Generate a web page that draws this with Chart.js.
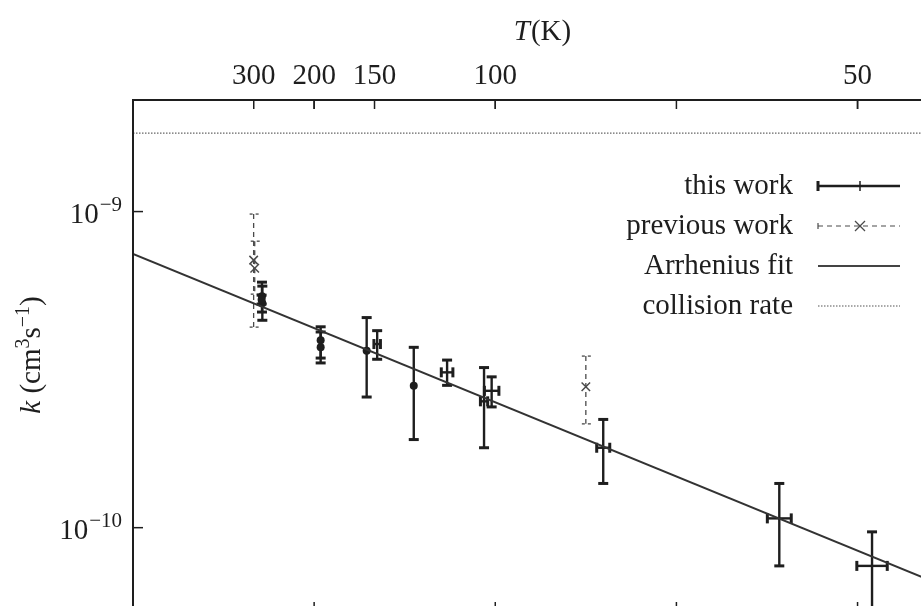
<!DOCTYPE html>
<html>
<head>
<meta charset="utf-8">
<script src="https://cdn.jsdelivr.net/npm/chart.js@4"></script>
<style>
  html, body { margin: 0; padding: 0; overflow: hidden; background: #fff; }
  #wrap { width: 940px; height: 700px; }
</style>
</head>
<body>
<div id="wrap"><canvas id="rateChart" width="940" height="700"></canvas></div>
<script>
// x is 1000/T (K^-1), y is k (cm^3 s^-1)
const twX    = [3.56, 3.57, 3.55, 5.18, 5.18, 6.45, 6.74, 7.75, 8.67, 9.69, 9.90, 12.98, 17.84, 20.40];
const twK    = [5.40e-10, 5.13e-10, 5.26e-10, 3.92e-10, 3.72e-10, 3.63e-10, 3.81e-10, 2.81e-10, 3.10e-10, 2.51e-10, 2.71e-10, 1.79e-10, 1.07e-10, 7.57e-11];
const twKlo  = [4.81e-10, 4.53e-10, 5.10e-10, 3.44e-10, 3.32e-10, 2.59e-10, 3.41e-10, 1.90e-10, 2.82e-10, 1.79e-10, 2.41e-10, 1.38e-10, 7.57e-11, 5.30e-11];
const twKhi  = [5.98e-10, 5.81e-10, 5.44e-10, 4.32e-10, 4.16e-10, 4.62e-10, 4.20e-10, 3.72e-10, 3.39e-10, 3.21e-10, 3.00e-10, 2.20e-10, 1.38e-10, 9.70e-11];
const twXerr = [0, 0, 0, 0, 0, 0, 0.09, 0, 0.16, 0.10, 0.20, 0.18, 0.33, 0.42];

const pwX   = [3.33, 3.36, 12.50];
const pwK   = [7.02e-10, 6.62e-10, 2.79e-10];
const pwKlo = [4.31e-10, 5.48e-10, 2.13e-10];
const pwKhi = [9.82e-10, 8.06e-10, 3.49e-10];

const fitX = [0, 22];
const fitK = [7.34e-10, 6.81e-11];

const collX = [0, 22];
const collK = [1.77e-9, 1.77e-9];

const xTicks = [5, 10, 15, 20];
const tTicks = [300, 200, 150, 100, 50];
const yTicks = [1e-10, 1e-9];
const legendLabels = ["this work", "previous work", "Arrhenius fit", "collision rate"];

const SERIF = '"Liberation Serif", "Times New Roman", serif';
const INK = "#1e1e1e";

function line(ctx, x1, y1, x2, y2) {
  ctx.beginPath();
  ctx.moveTo(x1, y1);
  ctx.lineTo(x2, y2);
  ctx.stroke();
}

function drawCross(ctx, x, y, s) {
  line(ctx, x - s, y - s, x + s, y + s);
  line(ctx, x - s, y + s, x + s, y - s);
}

// error bars go under the markers
const errorBars = {
  id: "errorBars",
  beforeDatasetsDraw(chart) {
    const { ctx } = chart;
    const x = chart.scales.x, y = chart.scales.y;
    ctx.save();

    // previous work: thin dashed grey bars
    ctx.strokeStyle = "#4a4a4a";
    ctx.lineWidth = 1.3;
    pwX.forEach((v, i) => {
      const px = x.getPixelForValue(v);
      const top = y.getPixelForValue(pwKhi[i]);
      const bot = y.getPixelForValue(pwKlo[i]);
      ctx.setLineDash([5, 4]);
      line(ctx, px, top, px, bot);
      ctx.setLineDash([3, 3]);
      line(ctx, px - 4, top, px + 5, top);
      line(ctx, px - 4, bot, px + 5, bot);
    });

    // this work: thick solid bars with caps
    ctx.setLineDash([]);
    ctx.strokeStyle = INK;
    twX.forEach((v, i) => {
      const px = x.getPixelForValue(v);
      const py = y.getPixelForValue(twK[i]);
      const top = y.getPixelForValue(twKhi[i]);
      const bot = y.getPixelForValue(twKlo[i]);
      ctx.lineWidth = 2.4;
      line(ctx, px, top, px, bot);
      ctx.lineWidth = 3;
      line(ctx, px - 5, top, px + 5, top);
      line(ctx, px - 5, bot, px + 5, bot);
      if (twXerr[i]) {
        const l = x.getPixelForValue(v - twXerr[i]);
        const r = x.getPixelForValue(v + twXerr[i]);
        ctx.lineWidth = 2.4;
        line(ctx, l, py, r, py);
        ctx.lineWidth = 3;
        line(ctx, l, py - 5, l, py + 5);
        line(ctx, r, py - 5, r, py + 5);
      }
    });
    ctx.restore();
  }
};

// frame, inward ticks, superscript labels, titles and key
const decorations = {
  id: "decorations",
  afterDraw(chart) {
    const { ctx, chartArea } = chart;
    const { left, top, right, bottom } = chartArea;
    const x = chart.scales.x, y = chart.scales.y, x2 = chart.scales.x2;
    ctx.save();
    ctx.strokeStyle = INK;
    ctx.fillStyle = INK;

    ctx.lineWidth = 2;
    ctx.strokeRect(left, top, right - left, bottom - top);

    ctx.lineWidth = 1.5;
    y.ticks.forEach(t => {
      const py = y.getPixelForValue(t.value);
      line(ctx, left, py, left + 10, py);
    });
    x.ticks.forEach(t => {
      const px = x.getPixelForValue(t.value);
      line(ctx, px, bottom, px, bottom - 9);
      line(ctx, px, top, px, top + 9);
    });
    x2.ticks.forEach(t => {
      const px = x2.getPixelForValue(t.value);
      line(ctx, px, top, px, top + 9);
    });

    // y tick labels as 10 with a raised exponent
    ctx.textBaseline = "alphabetic";
    y.ticks.forEach(t => {
      const py = y.getPixelForValue(t.value);
      const exp = "\u2212" + Math.round(-Math.log10(t.value));
      ctx.font = "21px " + SERIF;
      const ew = ctx.measureText(exp).width;
      ctx.textAlign = "right";
      ctx.fillText(exp, 122, py - 1);
      ctx.font = "29px " + SERIF;
      ctx.fillText("10", 122 - ew - 1, py + 11);
    });

    // y axis title, rotated
    const parts = [
      { t: "k", f: "italic 29px " + SERIF, dy: 0 },
      { t: " (cm", f: "29px " + SERIF, dy: 0 },
      { t: "3", f: "20px " + SERIF, dy: -11 },
      { t: "s", f: "29px " + SERIF, dy: 0 },
      { t: "\u22121", f: "20px " + SERIF, dy: -11 },
      { t: ")", f: "29px " + SERIF, dy: 0 }
    ];
    let total = 0;
    parts.forEach(p => { ctx.font = p.f; p.w = ctx.measureText(p.t).width; total += p.w; });
    ctx.save();
    ctx.translate(30, 355);
    ctx.rotate(-Math.PI / 2);
    ctx.textAlign = "left";
    let cx = -total / 2;
    parts.forEach(p => {
      ctx.font = p.f;
      ctx.fillText(p.t, cx, 10 + p.dy);
      cx += p.w;
    });
    ctx.restore();

    // top title T(K)
    ctx.font = "italic 29px " + SERIF;
    const tw = ctx.measureText("T").width;
    ctx.font = "29px " + SERIF;
    const kw = ctx.measureText("(K)").width;
    let sx = 542 - (tw + kw) / 2;
    ctx.textAlign = "left";
    ctx.font = "italic 29px " + SERIF;
    ctx.fillText("T", sx, 40);
    ctx.font = "29px " + SERIF;
    ctx.fillText("(K)", sx + tw + 1, 40);

    // key
    ctx.font = "29px " + SERIF;
    ctx.textAlign = "right";
    ctx.textBaseline = "middle";
    legendLabels.forEach((label, i) => {
      const ry = 186 + i * 40;
      ctx.fillStyle = INK;
      ctx.fillText(label, 793, ry);
      const a = 818, b = 900, m = 860;
      ctx.setLineDash([]);
      if (i === 0) {
        ctx.strokeStyle = INK; ctx.lineWidth = 2.4;
        line(ctx, a, ry, b, ry);
        ctx.lineWidth = 3;
        line(ctx, a, ry - 5, a, ry + 5);
        ctx.lineWidth = 1.5;
        line(ctx, m, ry - 5, m, ry + 5);
      } else if (i === 1) {
        ctx.strokeStyle = "#4a4a4a"; ctx.lineWidth = 1.2;
        ctx.setLineDash([5, 4]);
        line(ctx, a, ry, b, ry);
        ctx.setLineDash([]);
        line(ctx, a, ry - 3, a, ry + 3);
        drawCross(ctx, m, ry, 5);
      } else if (i === 2) {
        ctx.strokeStyle = "#444"; ctx.lineWidth = 2;
        line(ctx, a, ry, b, ry);
      } else {
        ctx.strokeStyle = "#555"; ctx.lineWidth = 1.2;
        ctx.setLineDash([1.5, 1.5]);
        line(ctx, a, ry, b, ry);
      }
    });
    ctx.restore();
  }
};

const toPts = (xs, ys) => xs.map((v, i) => ({ x: v, y: ys[i] }));

Chart.defaults.font.family = SERIF;
Chart.defaults.color = INK;

new Chart(document.getElementById("rateChart"), {
  type: "scatter",
  data: {
    datasets: [
      {
        label: "Arrhenius fit",
        data: toPts(fitX, fitK),
        showLine: true,
        borderColor: "#333",
        borderWidth: 2,
        pointRadius: 0
      },
      {
        label: "collision rate",
        data: toPts(collX, collK),
        showLine: true,
        borderColor: "#666",
        borderWidth: 1.2,
        borderDash: [1.5, 1.5],
        pointRadius: 0
      },
      {
        label: "previous work",
        data: toPts(pwX, pwK),
        pointStyle: "crossRot",
        pointRadius: 6,
        borderColor: "#4a4a4a",
        borderWidth: 1.5
      },
      {
        label: "this work",
        data: toPts(twX, twK),
        pointStyle: "circle",
        pointRadius: ctx => (twXerr[ctx.dataIndex] ? 0 : 4),
        backgroundColor: INK,
        borderColor: INK,
        borderWidth: 0
      }
    ]
  },
  options: {
    responsive: false,
    animation: false,
    layout: { padding: { left: 0, top: 0, right: 10, bottom: 0 } },
    plugins: {
      legend: { display: false },
      tooltip: { enabled: false }
    },
    scales: {
      x: {
        type: "linear",
        position: "bottom",
        min: 0,
        max: 22,
        afterBuildTicks: s => { s.ticks = xTicks.map(v => ({ value: v })); },
        afterFit: s => { s.height = 89; },
        grid: { display: false, drawTicks: false },
        border: { display: false },
        ticks: { display: false }
      },
      x2: {
        type: "linear",
        position: "top",
        min: 0,
        max: 22,
        afterBuildTicks: s => { s.ticks = tTicks.map(t => ({ value: 1000 / t })); },
        afterFit: s => { s.height = 100; },
        grid: { display: false, drawTicks: false },
        border: { display: false },
        ticks: {
          padding: 6,
          font: { size: 29, family: SERIF },
          color: INK,
          maxRotation: 0,
          autoSkip: false,
          callback: v => Math.round(1000 / v)
        }
      },
      y: {
        type: "logarithmic",
        min: 5.45e-11,
        max: 2.254e-9,
        afterBuildTicks: s => { s.ticks = yTicks.map(v => ({ value: v })); },
        afterFit: s => { s.width = 133; },
        grid: { display: false, drawTicks: false },
        border: { display: false },
        ticks: { display: false }
      }
    }
  },
  plugins: [errorBars, decorations]
});
</script>
</body>
</html>
